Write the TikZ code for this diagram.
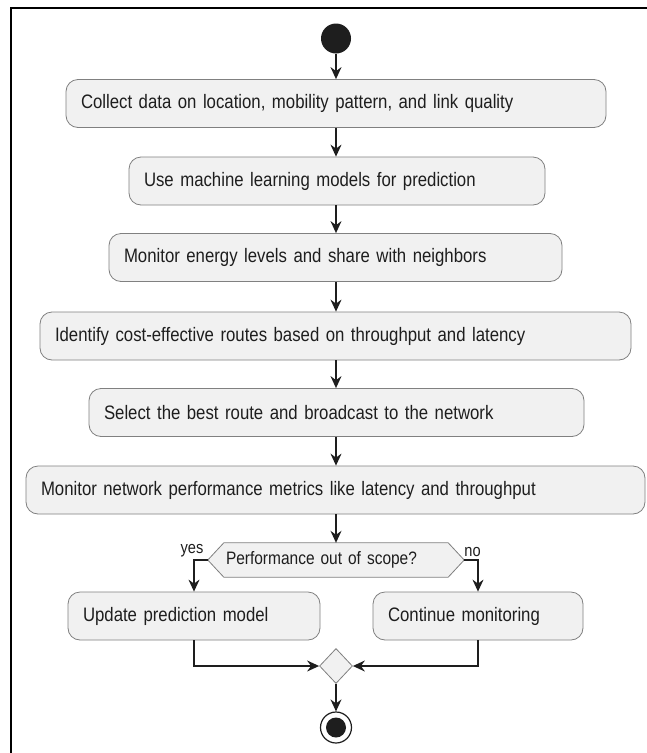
\documentclass[tikz,border=0pt]{standalone}
\usepackage{fontspec}
\setmainfont{Liberation Sans}[FakeStretch=0.86]
\usetikzlibrary{arrows.meta,shapes.geometric,calc}
\definecolor{boxfill}{HTML}{F1F1F1}
\definecolor{boxline}{HTML}{808080}
\definecolor{ink}{HTML}{1E1E1E}
\tikzset{
  actbox/.style={draw=boxline, line width=0.8pt, fill=boxfill, rounded corners=12pt,
    minimum height=48pt, inner xsep=15pt, inner ysep=0pt, align=left,
    font=\fontsize{19.5}{22}\selectfont, text=ink},
  flow/.style={draw=ink, line width=1.3pt, -{Stealth[length=12pt,width=11pt,inset=4pt]}},
  lbl/.style={font=\fontsize{17}{19}\selectfont, text=ink, inner sep=0pt},
  dectext/.style={minimum width=256pt, minimum height=34pt, inner sep=0pt,
    font=\fontsize{18}{20}\selectfont, text=ink},
}
\begin{document}
\begin{tikzpicture}[x=1pt,y=-1pt]
\useasboundingbox (0,0) rectangle (647,753);
\fill[white] (0,0) rectangle (647,753);
% frame
\draw[line width=2pt, black] (647,8) -- (11,8) -- (11,753);

\node[circle, fill=ink, minimum size=30pt, inner sep=0pt] (start) at (336,38.5) {};

\node[actbox, text width=510pt] (b1) at (336,103.5) {Collect data on location, mobility pattern, and link quality};
\node[actbox, text width=386pt] (b2) at (337,181) {Use machine learning models for prediction};
\node[actbox, text width=423pt] (b3) at (335.5,257.5) {Monitor energy levels and share with neighbors};
\node[actbox, text width=561pt] (b4) at (335.5,336) {Identify cost-effective routes based on throughput and latency};
\node[actbox, text width=465pt] (b5) at (336.5,412.5) {Select the best route and broadcast to the network};
\node[actbox, text width=589pt] (b6) at (335.5,490) {Monitor network performance metrics like latency and throughput};

\node[dectext] (dec) at (336,560) {};
\draw[draw=boxline, line width=0.8pt, fill=boxfill]
  (dec.west) -- ($(dec.north west)+(16,0)$) -- ($(dec.north east)+(-16,0)$) -- (dec.east)
  -- ($(dec.south east)+(-16,0)$) -- ($(dec.south west)+(16,0)$) -- cycle;
\node[dectext, anchor=west, minimum width=0pt, text width=230pt, align=left] (dect) at ($(dec.west)+(18,0)$) {Performance out of scope?};

\node[actbox, text width=222pt] (b7) at (194,616) {Update prediction model};
\node[actbox, text width=180pt] (b8) at (478,616) {Continue monitoring};

\node[diamond, draw=boxline, line width=0.8pt, fill=boxfill, minimum width=33pt, minimum height=35pt, inner sep=0pt] (merge) at (336,666) {};

\node[circle, draw=ink, line width=1.2pt, fill=white, minimum size=31pt, inner sep=0pt] (stop) at (336,727.5) {};
\node[circle, fill=ink, minimum size=20pt, inner sep=0pt] (stopin) at (stop.center) {};

\node[lbl, anchor=south] (yes) at (192,557) {yes};
\node[lbl, anchor=south] (no) at (472.5,557) {no};

\draw[flow] (start) -- (b1);
\draw[flow] (b1.south -| start) -- (b2.north -| start);
\draw[flow] (b2.south -| start) -- (b3.north -| start);
\draw[flow] (b3.south -| start) -- (b4.north -| start);
\draw[flow] (b4.south -| start) -- (b5.north -| start);
\draw[flow] (b5.south -| start) -- (b6.north -| start);
\draw[flow] (b6.south -| start) -- (dec.north -| start);
\draw[flow] (dec.west) -| (b7.north);
\draw[flow] (dec.east) -| (b8.north);
\draw[flow] (b7.south) |- (merge.west);
\draw[flow] (b8.south) |- (merge.east);
\draw[flow] (merge.south) -- (stop.north);
\end{tikzpicture}
\end{document}
